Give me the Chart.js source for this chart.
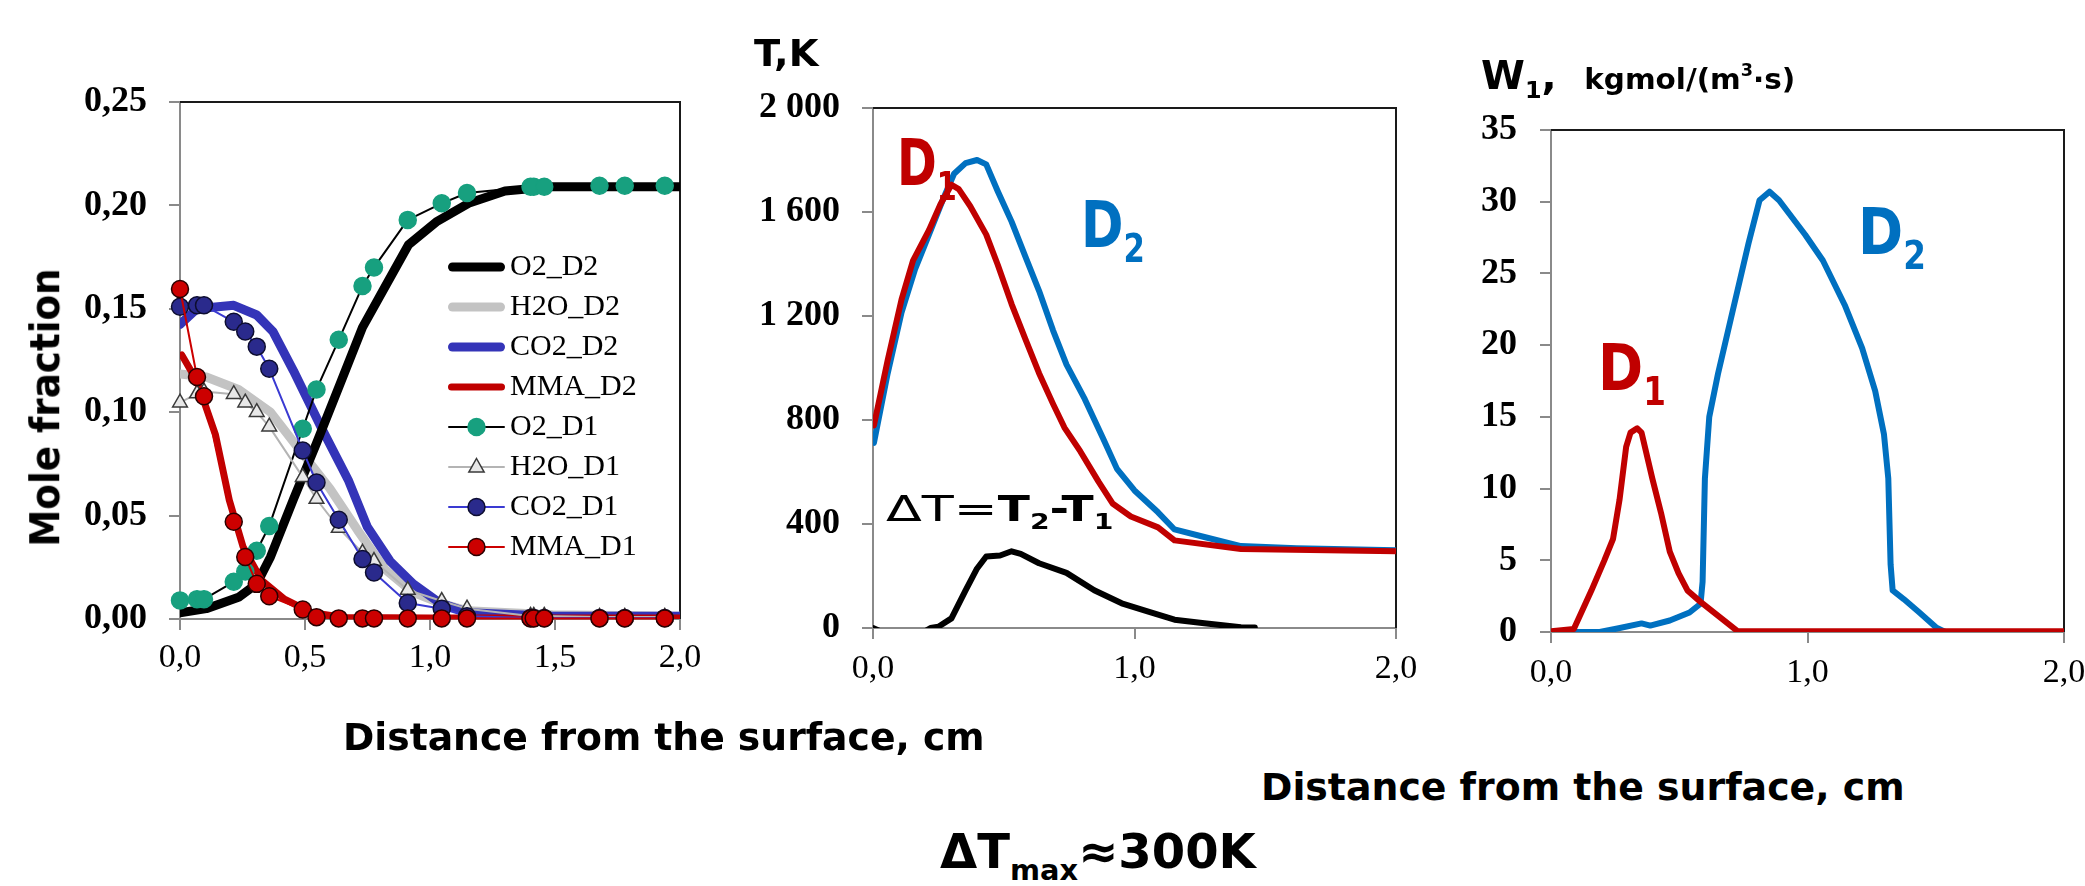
<!DOCTYPE html>
<html><head><meta charset="utf-8">
<script src="https://cdn.jsdelivr.net/npm/chart.js@4.4.1/dist/chart.umd.min.js"></script>
<style>
html,body{margin:0;padding:0;background:#fff;}
body{width:2085px;height:886px;position:relative;overflow:hidden;}
.box{position:absolute;}
.ov{position:absolute;white-space:nowrap;font-family:"DejaVu Sans Condensed","DejaVu Sans",sans-serif;font-weight:bold;color:#000;line-height:1;transform-origin:0 0;}
.sb{font-size:0.6em;position:relative;top:0.4em;}
.sp{font-size:0.6em;position:relative;top:-0.75em;}
.red{color:#c00000;}
.blue{color:#0070c0;}
.nb{font-weight:normal;}
</style></head><body>
<div class="box" style="left:0;top:0;"><canvas id="c1" width="720" height="720"></canvas></div>
<div class="box" style="left:720px;top:0;"><canvas id="c2" width="720" height="720"></canvas></div>
<div class="box" style="left:1440px;top:0;"><canvas id="c3" width="645" height="720"></canvas></div>

<div class="ov" id="molef" data-cx="45" data-cy="407" data-w="278" data-rot="1" style="font-size:41px">Mole fraction</div>
<div class="ov" data-x="663" data-c="1" data-b="750" data-w="641" style="font-size:37px">Distance from the surface, cm</div>
<div class="ov" data-x="1582" data-c="1" data-b="800" data-w="643" style="font-size:37px">Distance from the surface, cm</div>
<div class="ov" data-x="754" data-b="66" data-w="64" style="font-size:38px">T,K</div>
<div class="ov" data-x="1481" data-b="89" data-w="314" style="font-size:39px">W<span class="sb">1</span>,&nbsp;&nbsp;<span style="font-size:0.74em">kgmol/(m<span class="sp">3</span>·s)</span></div>
<div class="ov red" data-x="897" data-b="185" data-w="60" style="font-size:64px">D<span class="sb">1</span></div>
<div class="ov blue" data-x="1081" data-b="247" data-w="64" style="font-size:64px">D<span class="sb">2</span></div>
<div class="ov red" data-x="1598" data-b="390" data-w="68" style="font-size:64px">D<span class="sb">1</span></div>
<div class="ov blue" data-x="1858" data-b="254" data-w="68" style="font-size:64px">D<span class="sb">2</span></div>
<div class="ov" data-x="886" data-b="521" data-w="227" style="font-size:36px"><span class="nb" style="font-family:'DejaVu Sans',sans-serif">ΔT=</span>T<span class="sb">2</span>-T<span class="sb">1</span></div>
<div class="ov" data-x="1098" data-c="1" data-b="868" data-w="316" style="font-size:48px">ΔT<span class="sb">max</span>≈300K</div>

<script>
// ---------- Chart 1: mole fractions ----------
const xD1   = [0, 0.068, 0.096, 0.215, 0.261, 0.307, 0.357, 0.491, 0.546, 0.635, 0.730, 0.776, 0.911, 1.047, 1.148, 1.402, 1.415, 1.457, 1.678, 1.779, 1.939];
const o2D1  = [0.009, 0.0096, 0.0096, 0.018, 0.023, 0.033, 0.045, 0.092, 0.111, 0.135, 0.161, 0.170, 0.193, 0.201, 0.206, 0.209, 0.209, 0.209, 0.2095, 0.2095, 0.2095];
const h2oD1 = [0.1046, 0.109, 0.110, 0.1087, 0.1046, 0.100, 0.093, 0.0686, 0.058, 0.044, 0.032, 0.028, 0.014, 0.0087, 0.005, 0.0015, 0.0015, 0.0015, 0.001, 0.001, 0.001];
const co2D1 = [0.151, 0.1517, 0.1517, 0.1437, 0.139, 0.1317, 0.121, 0.0815, 0.066, 0.048, 0.029, 0.0225, 0.0077, 0.005, 0.0013, 0.0005, 0.0005, 0.0005, 0.0005, 0.0005, 0.0005];
const mmaD1 = [0.1596, 0.117, 0.1077, 0.047, 0.030, 0.017, 0.011, 0.0046, 0.0009, 0.0003, 0.0003, 0.0003, 0.0003, 0.0003, 0.0003, 0.0003, 0.0003, 0.0003, 0.0003, 0.0003, 0.0003];

const xO2D2  = [0, 0.105, 0.234, 0.307, 0.362, 0.454, 0.546, 0.638, 0.730, 0.822, 0.914, 1.025, 1.154, 1.300, 1.485, 2.0];
const o2D2   = [0.003, 0.005, 0.0105, 0.017, 0.030, 0.058, 0.085, 0.113, 0.141, 0.161, 0.181, 0.192, 0.201, 0.207, 0.209, 0.209];
const xH2OD2 = [0, 0.105, 0.234, 0.362, 0.490, 0.600, 0.710, 0.820, 0.930, 1.040, 1.150, 1.490, 2.0];
const h2oD2  = [0.1185, 0.117, 0.111, 0.100, 0.080, 0.063, 0.043, 0.024, 0.013, 0.0077, 0.004, 0.002, 0.0013];
const xCO2D2 = [0, 0.068, 0.215, 0.307, 0.372, 0.454, 0.565, 0.675, 0.749, 0.840, 0.933, 1.040, 1.154, 1.490, 2.0];
const co2D2  = [0.1425, 0.150, 0.1517, 0.147, 0.139, 0.120, 0.0926, 0.0667, 0.0446, 0.028, 0.017, 0.0077, 0.003, 0.0013, 0.0013];
const xMMAD2 = [0.007, 0.068, 0.142, 0.197, 0.252, 0.326, 0.418, 0.528, 0.657, 1.0, 2.0];
const mmaD2  = [0.1277, 0.115, 0.089, 0.0575, 0.035, 0.0188, 0.0096, 0.003, 0.0007, 0.0005, 0.0005];

const legendLabels1 = ['O2_D2', 'H2O_D2', 'CO2_D2', 'MMA_D2', 'O2_D1', 'H2O_D1', 'CO2_D1', 'MMA_D1'];
const xTicks1 = [0, 0.5, 1.0, 1.5, 2.0];
const yTicks1 = [0, 0.05, 0.10, 0.15, 0.20, 0.25];

// ---------- Chart 2: temperature ----------
const xT2 = [0.0035, 0.056, 0.109, 0.161, 0.214, 0.267, 0.31, 0.354, 0.398, 0.433, 0.477, 0.53, 0.582, 0.635, 0.688, 0.74, 0.81, 0.88, 0.933, 1.0, 1.09, 1.153, 1.267, 1.407, 1.62, 2.0];
const tD2 = [712, 979, 1213, 1380, 1513, 1647, 1747, 1788, 1800, 1783, 1680, 1563, 1430, 1297, 1146, 1013, 880, 729, 612, 529, 445, 379, 350, 315, 307, 299];
const xT1 = [0.0035, 0.056, 0.109, 0.153, 0.214, 0.258, 0.30, 0.328, 0.372, 0.433, 0.477, 0.53, 0.582, 0.635, 0.688, 0.732, 0.793, 0.863, 0.916, 0.986, 1.09, 1.153, 1.407, 2.0];
const tD1 = [779, 1029, 1263, 1413, 1530, 1630, 1705, 1688, 1622, 1513, 1397, 1246, 1113, 980, 863, 771, 679, 562, 479, 429, 387, 337, 304, 295];
const xDT = [0, 0.1, 0.17, 0.22, 0.25, 0.30, 0.354, 0.398, 0.433, 0.486, 0.53, 0.565, 0.635, 0.74, 0.846, 0.951, 1.056, 1.153, 1.267, 1.407, 1.46];
const dT  = [0, -45, -30, 0, 5, 37, 145, 229, 275, 279, 295, 285, 249, 212, 145, 95, 62, 32, 18, 3, 2];
const xTicks2 = [0, 1.0, 2.0];
const yTicks2 = [0, 400, 800, 1200, 1600, 2000];

// ---------- Chart 3: reaction rate W1 ----------
const xW1 = [0, 0.089, 0.157, 0.208, 0.242, 0.267, 0.293, 0.310, 0.336, 0.353, 0.395, 0.429, 0.463, 0.497, 0.532, 0.583, 0.668, 0.727, 2.0];
const wD1 = [0.06, 0.21, 2.87, 4.99, 6.5, 9.2, 12.9, 13.9, 14.2, 13.9, 10.7, 8.3, 5.6, 4.1, 2.9, 2.1, 0.9, 0.06, 0.05];
const xW2 = [0, 0.19, 0.259, 0.353, 0.387, 0.463, 0.540, 0.583, 0.591, 0.600, 0.617, 0.651, 0.702, 0.770, 0.813, 0.852, 0.889, 0.991, 1.060, 1.145, 1.213, 1.264, 1.298, 1.315, 1.324, 1.332, 1.375, 1.434, 1.503, 1.537, 2.0];
const wD2 = [0, 0, 0.24, 0.6, 0.45, 0.8, 1.36, 1.97, 3.5, 10.7, 15.0, 18.0, 21.9, 27.1, 30.1, 30.7, 30.1, 27.7, 25.9, 22.8, 19.8, 16.8, 13.8, 10.7, 4.7, 2.9, 2.3, 1.4, 0.3, 0, 0];
const xTicks3 = [0, 1.0, 2.0];
const yTicks3 = [0, 5, 10, 15, 20, 25, 30, 35];

// ---------- helpers ----------
const pts = (xs, ys) => xs.map((x, i) => ({x: x, y: ys[i]}));
const comma = (v, d) => (Math.round(v * Math.pow(10, d)) / Math.pow(10, d)).toFixed(d).replace('.', ',');
const thousands = v => { const n = Math.round(v); return n >= 1000 ? Math.floor(n / 1000) + ' ' + String(n % 1000).padStart(3, '0') : String(n); };
const AXIS = '#8a8a8a';

const framePlugin = {
  id: 'frame',
  beforeDatasetsDraw(chart) {
    const a = chart.chartArea, ctx = chart.ctx;
    ctx.save();
    ctx.strokeStyle = '#1a1a1a'; ctx.lineWidth = 2;
    ctx.beginPath();
    ctx.moveTo(a.left, a.top); ctx.lineTo(a.right, a.top); ctx.lineTo(a.right, a.bottom);
    ctx.stroke();
    ctx.restore();
  }
};

const legendPlugin = {
  id: 'innerLegend',
  afterDatasetsDraw(chart, args, opts) {
    if (!opts || !opts.show) return;
    const a = chart.chartArea, ctx = chart.ctx;
    ctx.save();
    ctx.font = opts.font;
    ctx.textBaseline = 'middle';
    ctx.fillStyle = '#000';
    opts.labels.forEach((lab, i) => {
      const ds = chart.data.datasets.find(d => d.label === lab);
      const y = a.top + opts.top + i * opts.spacing;
      const x0 = a.left + opts.left;
      ctx.strokeStyle = ds.borderColor; ctx.lineWidth = ds.borderWidth; ctx.lineCap = 'round';
      ctx.beginPath(); ctx.moveTo(x0 + ds.borderWidth / 2, y); ctx.lineTo(x0 + opts.len - ds.borderWidth / 2, y); ctx.stroke();
      if (ds.pointRadius > 0) {
        const cx = x0 + opts.len / 2, r = ds.pointRadius;
        ctx.fillStyle = ds.pointBackgroundColor; ctx.strokeStyle = ds.pointBorderColor; ctx.lineWidth = ds.pointBorderWidth;
        ctx.beginPath();
        if (ds.pointStyle === 'triangle') {
          ctx.moveTo(cx, y - r); ctx.lineTo(cx + r * 0.9, y + r * 0.6); ctx.lineTo(cx - r * 0.9, y + r * 0.6); ctx.closePath();
        } else { ctx.arc(cx, y, r, 0, Math.PI * 2); }
        ctx.fill(); ctx.stroke();
      }
      ctx.fillStyle = '#000';
      ctx.fillText(lab, x0 + opts.len + opts.gap, y);
    });
    ctx.restore();
  }
};

function scales(o) {
  return {
    x: {
      type: 'linear', min: o.xmin, max: o.xmax,
      afterFit: s => { s.height = 60; s.paddingLeft = 0; s.paddingRight = 0; },
      afterBuildTicks: s => { s.ticks = o.xticks.map(v => ({value: v})); },
      ticks: {maxRotation: 0, autoSkip: false, padding: o.xpad, color: '#000',
        font: {family: 'Liberation Serif', size: 34, weight: 'normal'}, callback: o.xfmt},
      grid: {drawOnChartArea: false, drawTicks: true, tickLength: 11, color: AXIS, lineWidth: 2},
      border: {color: AXIS, width: 2}
    },
    y: {
      type: 'linear', min: o.ymin, max: o.ymax,
      afterFit: s => { s.width = o.yw; s.paddingTop = 0; s.paddingBottom = 0; },
      afterBuildTicks: s => { s.ticks = o.yticks.map(v => ({value: v})); },
      ticks: {autoSkip: false, padding: o.ypad, color: '#000',
        font: {family: 'Liberation Serif', size: 36, weight: 'bold'}, callback: o.yfmt},
      grid: {drawOnChartArea: false, drawTicks: true, tickLength: 11, color: AXIS, lineWidth: 2},
      border: {color: AXIS, width: 2}
    }
  };
}

const baseOpts = (padding, sc, legendOpts) => ({
  responsive: false, animation: false, devicePixelRatio: 1,
  layout: {padding: padding, autoPadding: false},
  events: [],
  scales: sc,
  plugins: {legend: {display: false}, tooltip: {enabled: false}, innerLegend: legendOpts || {show: false}}
});

function line(label, xs, ys, color, width, order, extra) {
  return Object.assign({label: label, data: pts(xs, ys), borderColor: color, backgroundColor: color, borderWidth: width,
    pointRadius: 0, pointHoverRadius: 0, fill: false, tension: 0, order: order,
    borderJoinStyle: 'round', borderCapStyle: 'round'}, extra || {});
}
function markerLine(label, xs, ys, lineColor, style, fill, edge, order) {
  return line(label, xs, ys, lineColor, 2, order, {pointStyle: style, pointRadius: 8.5, pointBackgroundColor: fill,
    pointBorderColor: edge, pointBorderWidth: 1.5, clip: false});
}

// Chart 1
new Chart(document.getElementById('c1'), {
  type: 'line',
  data: {datasets: [
    line('O2_D2', xO2D2, o2D2, '#000000', 9, 6),
    line('H2O_D2', xH2OD2, h2oD2, '#c3c3c3', 9, 8),
    line('CO2_D2', xCO2D2, co2D2, '#3434b8', 9, 7),
    line('MMA_D2', xMMAD2, mmaD2, '#c00000', 7, 5),
    markerLine('O2_D1', xD1, o2D1, '#000000', 'circle', '#17a07f', '#17a07f', 4),
    markerLine('H2O_D1', xD1, h2oD1, '#b4b4b4', 'triangle', '#e8e8e8', '#3a3a3a', 3),
    markerLine('CO2_D1', xD1, co2D1, '#3a3ad2', 'circle', '#2a2a8c', '#0d0d30', 2),
    markerLine('MMA_D1', xD1, mmaD1, '#cc0000', 'circle', '#cc0000', '#2a0000', 1)
  ]},
  options: baseOpts({left: 10, top: 102, right: 40, bottom: 41},
    scales({xmin: 0, xmax: 2, ymin: 0, ymax: 0.25, xticks: xTicks1, yticks: yTicks1, xpad: 8, ypad: 22, yw: 170,
      xfmt: v => comma(v, 1), yfmt: v => comma(v, 2)}),
    {show: true, labels: legendLabels1, top: 165, left: 268, spacing: 40, len: 57, gap: 5, font: '30px "Liberation Serif"'}),
  plugins: [framePlugin, legendPlugin]
});

// Chart 2
new Chart(document.getElementById('c2'), {
  type: 'line',
  data: {datasets: [
    line('D2', xT2, tD2, '#0070c0', 6, 3),
    line('D1', xT1, tD1, '#c00000', 6, 2),
    line('ΔT=T2-T1', xDT, dT, '#000000', 6, 1)
  ]},
  options: baseOpts({left: 3, top: 108, right: 44, bottom: 32},
    scales({xmin: 0, xmax: 2, ymin: 0, ymax: 2000, xticks: xTicks2, yticks: yTicks2, xpad: 10, ypad: 22, yw: 150,
      xfmt: v => comma(v, 1), yfmt: v => thousands(v)})),
  plugins: [framePlugin]
});

// Chart 3
new Chart(document.getElementById('c3'), {
  type: 'line',
  data: {datasets: [
    line('D2', xW2, wD2, '#0070c0', 6, 3),
    line('D1', xW1, wD1, '#c00000', 6, 2)
  ]},
  options: baseOpts({left: 0, top: 130, right: 21, bottom: 28},
    scales({xmin: 0, xmax: 2, ymin: 0, ymax: 35, xticks: xTicks3, yticks: yTicks3, xpad: 10, ypad: 23, yw: 111,
      xfmt: v => comma(v, 1), yfmt: v => String(Math.round(v))})),
  plugins: [framePlugin]
});

// ---------- overlay text placement ----------
function placeOverlays() {
  document.querySelectorAll('.ov').forEach(el => {
    const f = parseFloat(getComputedStyle(el).fontSize);
    el.style.transform = 'none';
    const w0 = el.offsetWidth;
    const s = el.dataset.w ? (+el.dataset.w) / w0 : 1;
    if (el.dataset.rot) {
      el.style.transformOrigin = '50% 50%';
      el.style.left = ((+el.dataset.cx) - w0 / 2) + 'px';
      el.style.top = ((+el.dataset.cy) - el.offsetHeight / 2) + 'px';
      el.style.transform = 'rotate(-90deg) scaleX(' + s + ')';
      return;
    }
    const left = el.dataset.c ? (+el.dataset.x) - w0 * s / 2 : +el.dataset.x;
    el.style.left = left + 'px';
    el.style.top = ((+el.dataset.b) - 0.846 * f) + 'px';
    el.style.transform = 'scaleX(' + s + ')';
  });
}
placeOverlays();
if (document.fonts && document.fonts.ready) document.fonts.ready.then(placeOverlays);
</script>
</body></html>
